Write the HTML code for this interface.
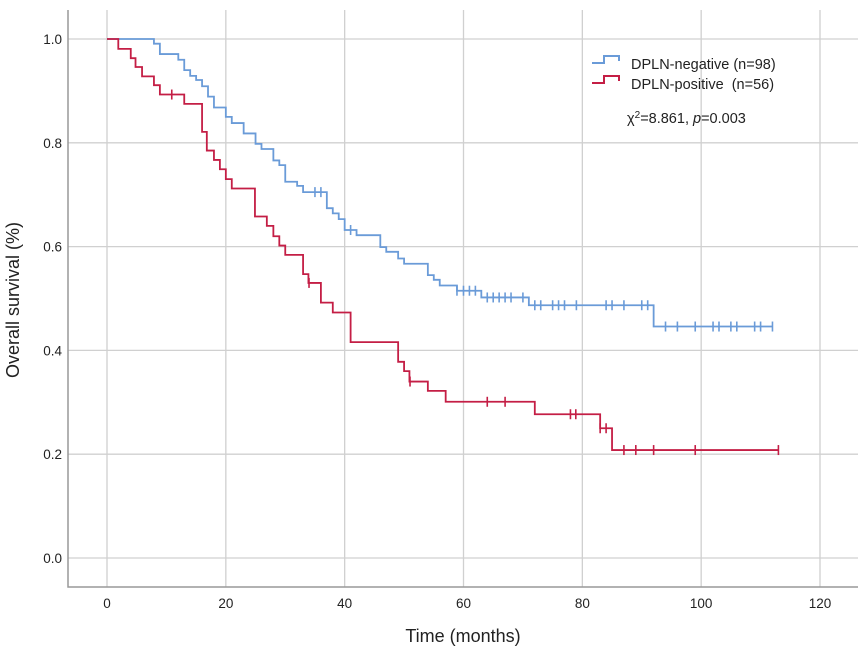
<!DOCTYPE html>
<html><head><meta charset="utf-8"><style>
body{margin:0;background:#fff;}
svg text{font-family:"Liberation Sans",Arial,sans-serif;fill:#222;}
</style></head><body>
<svg id="chart" width="863" height="657" xmlns="http://www.w3.org/2000/svg">
<g id="grid"></g>
<g id="axes"></g>
<g id="series"></g>
<g>
  <path d="M592,63 H604 V56 H619 V61" fill="none" stroke="#6a9bd8" stroke-width="2"/>
  <text x="631" y="69" font-size="14.5">DPLN-negative (n=98)</text>
  <path d="M592,83 H604 V76 H619 V81" fill="none" stroke="#c41e45" stroke-width="2"/>
  <text x="631" y="89" font-size="14.5" xml:space="preserve">DPLN-positive  (n=56)</text>
  <text x="627" y="123" font-size="14.5">χ<tspan dy="-5" font-size="10">2</tspan><tspan dy="5">=8.861, </tspan><tspan font-style="italic">p</tspan>=0.003</text>
</g>
<text x="463" y="642" font-size="18" text-anchor="middle">Time (months)</text>
<text x="0" y="0" font-size="18" text-anchor="middle" transform="translate(19,300) rotate(-90)">Overall survival (%)</text>
</svg>
<script>
const xTicks=[0,20,40,60,80,100,120];
const yTicks=[0,0.2,0.4,0.6,0.8,1.0];
const negTimes=[0,7.9,8.9,12,13,14,15,16,17,18,20,21,23,25,26,28,29,30,32,33,37,38,39,40,42,46,47,49,50,54,55,56,58.9,63,71,92,112];
const negSurv=[1,0.991,0.971,0.960,0.940,0.929,0.921,0.909,0.889,0.868,0.850,0.838,0.818,0.798,0.788,0.766,0.757,0.725,0.717,0.705,0.674,0.664,0.653,0.632,0.622,0.599,0.590,0.577,0.567,0.545,0.536,0.525,0.515,0.502,0.487,0.446,0.446];
const negCensor=[35,36,41,58.9,60,61,62,64,65,66,67,68,70,72,73,75,76,77,79,84,85,87,90,91,94,96,99,102,103,105,106,109,110,112];
const posTimes=[0,1.9,4,4.8,5.9,7.9,8.9,13,16,16.8,18,19,20,21,24.9,26.9,28,29,30,33,33.9,36,38,41,49,50,50.9,54,57,72,83,85,113];
const posSurv=[1,0.981,0.963,0.946,0.928,0.911,0.893,0.875,0.821,0.785,0.767,0.749,0.730,0.712,0.658,0.640,0.620,0.602,0.584,0.547,0.530,0.492,0.473,0.416,0.378,0.360,0.340,0.322,0.301,0.277,0.250,0.208,0.208];
const posCensor=[10.9,34,51,64,67,78,78.9,83,84,87,89,92,99,113];

const X=t=>107+t*(713/120);
const Y=s=>558-s*519;
const NS='http://www.w3.org/2000/svg';
function mk(tag,attrs,parent){const e=document.createElementNS(NS,tag);for(const k in attrs)e.setAttribute(k,attrs[k]);parent.appendChild(e);return e;}
const grid=document.getElementById('grid'),axes=document.getElementById('axes'),series=document.getElementById('series');
xTicks.forEach(t=>{
  const l=mk('line',{x1:X(t),x2:X(t),y1:10,y2:587,stroke:'#d0d0d0','stroke-width':1.3},grid);
  
  
  const tx=mk('text',{x:X(t),y:608,'font-size':13.5,'text-anchor':'middle'},axes);
  tx.textContent=t;
  
  
});
yTicks.forEach(v=>{
  const l=mk('line',{x1:68,x2:858,y1:Y(v),y2:Y(v),stroke:'#d0d0d0','stroke-width':1.3},grid);
  
  
  const tx=mk('text',{x:62,y:Y(v)+5,'font-size':13.5,'text-anchor':'end'},axes);
  tx.textContent=v.toFixed(1);
  
  
});
const ax=mk('path',{d:'M68,10 V587 H858',fill:'none',stroke:'#999','stroke-width':1.5},axes);


function stepAt(times,surv,t){let s=surv[0];for(let i=0;i<times.length;i++){if(times[i]<=t)s=surv[i];}return s;}
function draw(times,surv,cens,color,name){
  let d='M'+X(times[0])+','+Y(surv[0]);
  for(let i=1;i<times.length;i++){d+=' H'+X(times[i])+' V'+Y(surv[i]);}
  const p=mk('path',{d:d,fill:'none',stroke:color,'stroke-width':1.8},series);
  
  
  cens.forEach(t=>{
    const s=stepAt(times,surv,t);
    const m=mk('line',{x1:X(t),x2:X(t),y1:Y(s)-5,y2:Y(s)+5,stroke:color,'stroke-width':1.6},series);
    
    
  });
}
draw(negTimes,negSurv,negCensor,'#6a9bd8','dpln-negative');
draw(posTimes,posSurv,posCensor,'#c41e45','dpln-positive');
</script>
</body></html>
